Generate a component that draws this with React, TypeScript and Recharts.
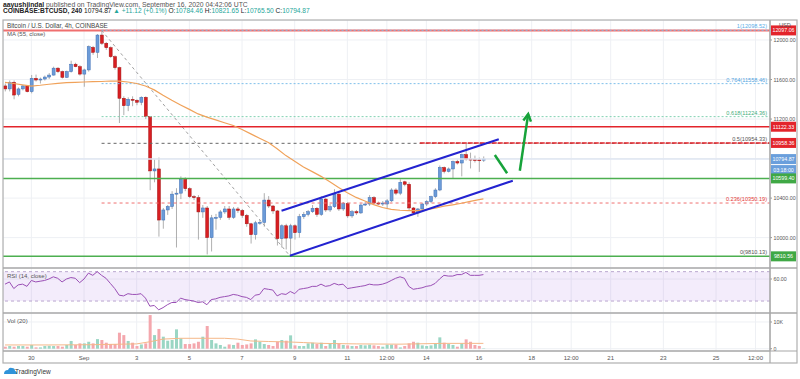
import React from 'react';
import { ComposedChart, Bar, Line, XAxis, YAxis, CartesianGrid, ReferenceLine, ReferenceArea, Cell } from 'recharts';

// 4h candles, Aug 29 00:00 -> Sep 16 04:00 (COINBASE:BTCUSD)
const opens = [
  11535, 11505, 11572, 11450, 11505, 11535, 11477, 11612, 11595, 11605, 11625, 11645, 11715, 11680, 11622, 11680,
  11755, 11730, 11655, 11697, 11925, 11875, 12050, 11967, 11922, 11831, 11720, 11410, 11335, 11400, 11390, 11370,
  11420, 11225, 10675, 10695, 10178, 10280, 10315, 10440, 10450, 10590, 10495, 10415, 10405, 10260, 10300, 10000,
  10200, 10205, 10260, 10290, 10205, 10290, 10275, 10225, 10140, 10030, 10150, 10155, 10380, 10320, 10270, 9990,
  10120, 9995, 10120, 10050, 10212, 10235, 10262, 10297, 10235, 10390, 10280, 10313, 10440, 10290, 10345, 10220,
  10262, 10250, 10330, 10340, 10405, 10350, 10345, 10340, 10372, 10482, 10450, 10565, 10540, 10300, 10250, 10290,
  10340, 10365, 10415, 10482, 10710, 10670, 10695, 10770, 10755, 10840, 10795, 10790, 10788, 10784.46,
];
const highs = [
  11560, 11590, 11590, 11520, 11550, 11545, 11646, 11650, 11620, 11640, 11665, 11730, 11725, 11690, 11690, 11790,
  11770, 11745, 11710, 11945, 11940, 12060, 12098.52, 11980, 11935, 11845, 11730, 11430, 11420, 11430, 11400, 11430,
  11430, 11230, 10790, 10810, 10300, 10330, 10470, 10500, 10620, 10610, 10510, 10430, 10430, 10330, 10320, 10230,
  10240, 10280, 10320, 10320, 10310, 10310, 10290, 10240, 10150, 10170, 10180, 10450, 10420, 10330, 10280, 10135,
  10140, 10140, 10135, 10240, 10260, 10280, 10330, 10310, 10420, 10400, 10340, 10490, 10460, 10360, 10360, 10280,
  10280, 10345, 10360, 10430, 10420, 10365, 10370, 10390, 10500, 10500, 10590, 10575, 10560, 10310, 10300, 10350,
  10380, 10425, 10500, 10730, 10720, 10710, 10780, 10790, 10850, 10958, 10860, 10830, 10810, 10821.65,
];
const lows = [
  11480, 11480, 11400, 11430, 11490, 11470, 11460, 11580, 11560, 11590, 11605, 11640, 11665, 11610, 11615, 11670,
  11725, 11640, 11527, 11680, 11850, 11818, 11950, 11900, 11820, 11700, 11160, 11240, 11280, 11330, 11340, 11340,
  11200, 10480, 10560, 10010, 10090, 10230, 10290, 9900, 10390, 10470, 10400, 10380, 9980, 10200, 9830, 9860,
  10080, 10180, 10240, 10180, 10190, 10250, 10200, 10110, 9940, 9980, 10130, 10110, 10300, 10240, 9920, 9900,
  9880, 9810.13, 9980, 10000, 10190, 10215, 10250, 10210, 10220, 10260, 10260, 10300, 10270, 10270, 10200, 10200,
  10230, 10240, 10320, 10320, 10340, 10330, 10320, 10300, 10360, 10430, 10430, 10520, 10280, 10230, 10210, 10270,
  10320, 10350, 10400, 10470, 10650, 10660, 10600, 10740, 10620, 10780, 10700, 10760, 10665, 10765.5,
];
const closes = [
  11505, 11572, 11443, 11505, 11535, 11477, 11612, 11595, 11605, 11625, 11645, 11715, 11680, 11622, 11680, 11755,
  11730, 11655, 11697, 11932, 11875, 12050, 11967, 11922, 11831, 11720, 11410, 11335, 11400, 11390, 11370, 11420,
  11225, 10675, 10695, 10178, 10280, 10315, 10440, 10450, 10590, 10495, 10415, 10405, 10260, 10300, 10000, 10200,
  10205, 10260, 10290, 10205, 10290, 10275, 10225, 10140, 10030, 10150, 10155, 10380, 10320, 10270, 9990, 10120,
  9995, 10120, 10050, 10212, 10235, 10262, 10297, 10235, 10390, 10280, 10313, 10440, 10290, 10345, 10220, 10262,
  10250, 10330, 10340, 10405, 10350, 10345, 10350, 10372, 10482, 10450, 10560, 10540, 10300, 10250, 10290, 10340,
  10365, 10415, 10482, 10710, 10670, 10695, 10770, 10755, 10840, 10795, 10790, 10788, 10784, 10794.87,
];

// MA (55, close) at these bars
const maIndex = [0, 2, 4, 6, 8, 10, 12, 14, 16, 18, 20, 22, 24, 26, 28, 30, 32, 34, 36, 38, 40, 42, 44, 46, 48, 50, 52, 54,
  56, 58, 60, 62, 64, 66, 68, 70, 72, 74, 76, 78, 80, 82, 84, 86, 88, 90, 92, 94, 96, 98, 100, 102, 104, 106, 108, 109];
const maValue = [11572, 11560, 11545, 11534, 11542, 11552, 11562, 11568, 11572, 11575, 11578, 11580, 11585, 11583, 11575,
  11560, 11535, 11495, 11440, 11390, 11343, 11298, 11252, 11219, 11191, 11163, 11135, 11095, 11050, 11005, 10962, 10900,
  10830, 10772, 10715, 10668, 10620, 10565, 10508, 10455, 10407, 10370, 10334, 10305, 10286, 10277, 10273, 10273, 10284,
  10297, 10318, 10332, 10348, 10366, 10385, 10392];

const rsiValues = [
  53, 56, 47, 52, 53, 50, 58, 56, 57, 58, 60, 63, 61, 56, 60, 62, 61, 55, 60, 68, 65, 70, 65, 61, 54, 47, 38, 37,
  40, 39, 39, 40, 34, 23, 24, 18, 21, 25, 28, 28, 34, 32, 31, 30, 28, 29, 25, 32, 33, 35, 36, 37, 39, 38, 36, 35,
  32, 38, 39, 47, 46, 45, 37, 40, 39, 43, 40, 46, 47, 48, 50, 50, 53, 50, 51, 54, 52, 53, 47, 48, 49, 50, 51, 53,
  52, 52, 53, 55, 58, 61, 63, 61, 50, 46, 47, 48, 50, 51, 54, 60, 65, 64, 64, 66, 66, 69, 65, 65, 65, 66,
];

const volumes = [
  750, 1000, 750, 1000, 1000, 750, 1400, 500, 500, 1000, 1100, 1000, 1000, 750, 1400, 2900, 1400, 2000, 2000, 2600,
  2000, 3600, 3250, 2250, 1750, 1750, 6000, 5100, 2900, 2250, 1000, 1600, 2000, 12600, 5100, 7400, 4500, 3000, 3250,
  7250, 3900, 1750, 1750, 2000, 2600, 4500, 8500, 3250, 2000, 1400, 750, 1600, 1400, 2250, 1400, 1600, 2000, 3500,
  2600, 1750, 1400, 1000, 2600, 3250, 3000, 5000, 1250, 1000, 1000, 2000, 2250, 1750, 2250, 1000, 2000, 3250, 2000,
  1400, 1250, 1000, 1000, 1400, 1250, 1500, 1250, 1000, 750, 1500, 1500, 1500, 500, 1000, 2000, 2600, 2250, 1250,
  1000, 1250, 2000, 4250, 2250, 1750, 1400, 750, 2000, 3500, 2600, 1400, 1000, 150,
];
const volMaIndex = [0, 10, 20, 30, 33, 36, 40, 45, 50, 53, 56, 60, 65, 68, 72, 80, 90, 100, 109];
const volMaValue = [1400, 1400, 1500, 1800, 2600, 3600, 3900, 3900, 3900, 3600, 2900, 2700, 2500, 2300, 2000, 1800, 1700, 2000, 2000];

const timeTicks = [6, 18, 30, 42, 54, 66, 78, 87, 96, 108, 120, 129, 138, 150, 162, 171];
const timeLabels = ['30', 'Sep', '3', '5', '7', '9', '11', '12:00', '14', '16', '18', '12:00', '21', '23', '25', '12:00'];
const priceTicks = [10000, 10200, 10400, 10600, 10800, 11000, 11200, 11400, 11600, 11800, 12000];
const hiddenPriceLabels = [10600, 10800];

const X_DOMAIN = [-0.46, 174.3];
const FONT = '"Liberation Sans", Arial, sans-serif';
const UP = '#6b9bd8';
const UP_EDGE = '#3e6fb5';
const DOWN = '#d81e22';
const DOWN_EDGE = '#a31515';
const AXIS_X = 770; // left edge of the price scale (page px)

const candles = opens.map((o, i) => {
  const m = maIndex.indexOf(i);
  const vm = volMaIndex.indexOf(i);
  return {
    i,
    o,
    h: highs[i],
    l: lows[i],
    c: closes[i],
    range: [lows[i], highs[i]],
    ma: m >= 0 ? maValue[m] : null,
    rsi: rsiValues[i],
    vol: volumes[i],
    volMa: vm >= 0 ? volMaValue[vm] : null,
  };
});

const Candle = (props: any) => {
  const { x, y, width, height, payload } = props;
  const { o, h, l, c } = payload;
  const top = Math.min(y, y + height);
  const span = Math.abs(height);
  const k = span / (h - l);
  const up = c >= o;
  const bodyTop = top + (h - Math.max(o, c)) * k;
  const bodyH = Math.max(1, Math.abs(o - c) * k);
  const cx = x + width / 2;
  return (
    <g>
      <line x1={cx} x2={cx} y1={top} y2={top + span} stroke="#9a9a9a" strokeWidth={0.8} />
      <rect x={x} y={bodyTop} width={width} height={bodyH} fill={up ? UP : DOWN} stroke={up ? UP_EDGE : DOWN_EDGE} strokeWidth={0.5} />
    </g>
  );
};

const fibLabel = (text: string, color: string) => (p: any) => {
  const vb = p.viewBox;
  return (
    <text x={vb.x + vb.width - 3} y={vb.y - 2} textAnchor="end" fontSize={5.6} fill={color} fontFamily={FONT}>
      {text}
    </text>
  );
};

const axisBox = (text: string, bg: string, extra?: string) => (p: any) => {
  const vb = p.viewBox;
  const bx = vb.x + vb.width + 1;
  return (
    <g>
      <rect x={bx} y={vb.y - 5} width={25} height={10} fill={bg} />
      <text x={bx + 12.5} y={vb.y + 2} textAnchor="middle" fontSize={5.3} fill="#fff" fontFamily={FONT}>{text}</text>
      {extra ? (
        <g>
          <rect x={bx} y={vb.y + 6} width={25} height={10} fill={bg} />
          <text x={bx + 12.5} y={vb.y + 13} textAnchor="middle" fontSize={5.3} fill="#fff" fontFamily={FONT}>{extra}</text>
        </g>
      ) : null}
    </g>
  );
};

const Arrow = (props: any) => {
  const { x1, y1, x2, y2 } = props;
  const ang = Math.atan2(y2 - y1, x2 - x1);
  const len = 8;
  const a1 = ang + Math.PI - 0.5;
  const a2 = ang + Math.PI + 0.5;
  return (
    <g>
      <line x1={x1} y1={y1} x2={x2} y2={y2} stroke="#17a33a" strokeWidth={2.5} />
      <polyline
        points={`${x2 + len * Math.cos(a1)},${y2 + len * Math.sin(a1)} ${x2},${y2} ${x2 + len * Math.cos(a2)},${y2 + len * Math.sin(a2)}`}
        fill="none" stroke="#17a33a" strokeWidth={2.5}
      />
    </g>
  );
};

// chart svgs start at page x = 3, so the scale edge is at AXIS_X - 3 inside them
const AxisTick = (fmt: (v: number) => string, hidden: number[] = []) => (props: any) => {
  const { y, payload } = props;
  if (hidden.includes(payload.value)) return null;
  const ax = AXIS_X - 3;
  return (
    <g>
      <line x1={ax} x2={ax + 2} y1={y} y2={y} stroke="#999" />
      <text x={ax + 3.5} y={y + 2} fontSize={5.3} fill="#555" fontFamily={FONT}>{fmt(payload.value)}</text>
    </g>
  );
};

// time labels sit in the strip between page y 351 and 363 (volume chart starts at y 313)
const TimeTick = (props: any) => {
  const { x, payload } = props;
  return (
    <text x={x} y={47} textAnchor="middle" fontSize={6} fill="#555" fontFamily={FONT}>
      {timeLabels[timeTicks.indexOf(payload.value)]}
    </text>
  );
};

const gridColor = '#eef0f4';

export default function App() {
  return (
    <div style={{ position: 'absolute', left: 0, top: 0, width: 800, height: 379, background: '#fff', fontFamily: FONT }}>
      <div style={{ position: 'absolute', left: 3, top: 20 }}>
        <ComposedChart width={794} height={248} data={candles} margin={{ top: 0, right: 0, bottom: 0, left: 0 }}>
          <CartesianGrid stroke={gridColor} />
          <XAxis dataKey="i" type="number" domain={X_DOMAIN} ticks={timeTicks} hide allowDataOverflow />
          <YAxis
            orientation="right" width={27} domain={[9692.6, 12202.4]} ticks={priceTicks} allowDataOverflow
            tick={AxisTick((v) => v.toFixed(2), hiddenPriceLabels)} tickLine={false} tickSize={0} tickMargin={0}
            axisLine={{ stroke: '#aaa' }}
          />
          <ReferenceLine y={12097.06} stroke="#ef6f6f" strokeWidth={2} label={axisBox('12097.06', '#e3242b')} />
          <ReferenceLine segment={[{ x: 22, y: 12098.52 }, { x: 174.3, y: 12098.52 }]} stroke="#7fbfea" strokeDasharray="2 2" label={fibLabel('1(12098.52)', '#5aaee8')} />
          <ReferenceLine segment={[{ x: 22, y: 11558.46 }, { x: 174.3, y: 11558.46 }]} stroke="#7fbfea" strokeDasharray="2 2" label={fibLabel('0.764(11558.46)', '#4fa3e0')} />
          <ReferenceLine segment={[{ x: 22, y: 11224.36 }, { x: 174.3, y: 11224.36 }]} stroke="#7fd0b0" strokeDasharray="2 2" label={fibLabel('0.618(11224.36)', '#3fae7c')} />
          <ReferenceLine segment={[{ x: 22, y: 10954.33 }, { x: 174.3, y: 10954.33 }]} stroke="#666" strokeDasharray="3 3" label={fibLabel('0.5(10954.33)', '#555')} />
          <ReferenceLine segment={[{ x: 22, y: 10350.19 }, { x: 174.3, y: 10350.19 }]} stroke="#ef7070" strokeDasharray="3 3" label={fibLabel('0.236(10350.19)', '#e53935')} />
          <ReferenceLine segment={[{ x: 22, y: 9810.13 }, { x: 174.3, y: 9810.13 }]} stroke="#888" strokeWidth={0} label={fibLabel('0(9810.13)', '#555')} />
          <ReferenceLine segment={[{ x: 22, y: 12098.52 }, { x: 65, y: 9810.13 }]} stroke="#a0a0a0" strokeDasharray="3 3" />
          <ReferenceLine y={11122.33} stroke="#e3242b" strokeWidth={1.5} label={axisBox('11122.33', '#e3242b')} />
          <ReferenceLine segment={[{ x: 94.5, y: 10958.36 }, { x: 174.3, y: 10958.36 }]} stroke="#e3242b" strokeWidth={1.5} strokeDasharray="5 1" />
          <ReferenceLine y={10958.36} stroke="none" label={axisBox('10958.36', '#e3242b')} />
          <ReferenceLine y={10794.87} stroke="#dfe6f2" strokeWidth={1.5} label={axisBox('10794.87', '#6a9fdc', '03:18:00')} />
          <ReferenceLine y={10599.4} stroke="#4caf50" strokeWidth={1.5} label={axisBox('10599.40', '#3fa845')} />
          <ReferenceLine y={9810.56} stroke="#4caf50" strokeWidth={1.5} label={axisBox('9810.56', '#3fa845')} />
          <Bar dataKey="range" barSize={3} shape={<Candle />} isAnimationActive={false} />
          <Line dataKey="ma" stroke="#f0a25a" strokeWidth={1.2} dot={false} connectNulls isAnimationActive={false} />
          <ReferenceLine segment={[{ x: 63, y: 10272 }, { x: 112.5, y: 10995 }]} stroke="#2323d0" strokeWidth={2} />
          <ReferenceLine segment={[{ x: 64.9, y: 9817 }, { x: 115.7, y: 10576 }]} stroke="#2323d0" strokeWidth={2} />
          <ReferenceLine segment={[{ x: 111.6, y: 10836 }, { x: 114.4, y: 10651 }]} stroke="#17a33a" strokeWidth={2.5} />
          <ReferenceLine segment={[{ x: 117.3, y: 10677 }, { x: 119.2, y: 11250 }]} shape={<Arrow />} />
        </ComposedChart>
      </div>

      <div style={{ position: 'absolute', left: 3, top: 268 }}>
        <ComposedChart width={794} height={45} data={candles} margin={{ top: 0, right: 0, bottom: 0, left: 0 }}>
          <CartesianGrid stroke={gridColor} />
          <XAxis dataKey="i" type="number" domain={X_DOMAIN} ticks={timeTicks} hide allowDataOverflow />
          <YAxis
            orientation="right" width={27} domain={[13.7, 75]} ticks={[20, 40, 60]} allowDataOverflow
            tick={AxisTick((v) => v.toFixed(2))} tickLine={false} tickSize={0} tickMargin={0} axisLine={{ stroke: '#aaa' }}
          />
          <ReferenceArea y1={30} y2={70} fill="#a66be0" fillOpacity={0.13} stroke="none" />
          <ReferenceLine y={70} stroke="#b9a6cf" strokeDasharray="3 3" />
          <ReferenceLine y={30} stroke="#b9a6cf" strokeDasharray="3 3" />
          <Line dataKey="rsi" stroke="#9a4fb5" strokeWidth={1} dot={false} isAnimationActive={false} />
        </ComposedChart>
      </div>

      <div style={{ position: 'absolute', left: 3, top: 313 }}>
        <ComposedChart width={794} height={50} data={candles} margin={{ top: 0, right: 0, bottom: 0, left: 0 }}>
          <CartesianGrid stroke={gridColor} />
          <XAxis
            dataKey="i" type="number" domain={X_DOMAIN} ticks={timeTicks} allowDataOverflow height={12}
            tick={<TimeTick />} tickLine={false} axisLine={{ stroke: '#aaa' }}
          />
          <YAxis
            orientation="right" width={27} domain={[-860, 13370]} ticks={[0, 5000, 10000]} allowDataOverflow
            tick={AxisTick((v) => (v === 0 ? '0' : `${v / 1000}K`))} tickLine={false} tickSize={0} tickMargin={0}
            axisLine={{ stroke: '#aaa' }}
          />
          <Bar dataKey="vol" barSize={3} isAnimationActive={false}>
            {candles.map((d) => (
              <Cell key={d.i} fill={d.c >= d.o ? '#9ad6c4' : '#f4a7ad'} />
            ))}
          </Bar>
          <Line dataKey="volMa" stroke="#f5b889" strokeWidth={1} dot={false} connectNulls isAnimationActive={false} />
        </ComposedChart>
      </div>

      <svg width={800} height={379} style={{ position: 'absolute', left: 0, top: 0, pointerEvents: 'none' }}>
        <text x={3} y={6.5} fontSize={6.8} fill="#555" fontFamily={FONT}>
          <tspan fontWeight="bold" fill="#222">aayushjindal</tspan> published on TradingView.com, September 16, 2020 04:42:06 UTC
        </text>
        <text x={3} y={13.2} fontSize={6.6} fill="#26a69a" fontFamily={FONT}>
          <tspan fontWeight="bold" fill="#222">COINBASE:BTCUSD, 240 </tspan>
          <tspan fill="#222">10794.87 </tspan>▲ +11.12 (+0.1%) <tspan fill="#222">O:</tspan>10784.46 <tspan fill="#222">H:</tspan>10821.65{' '}
          <tspan fill="#222">L:</tspan>10765.50 <tspan fill="#222">C:</tspan>10794.87
        </text>
        <rect x={3} y={20} width={794} height={343} fill="none" stroke="#b0b0b0" strokeWidth={1.2} />
        <line x1={3} x2={797} y1={268} y2={268} stroke="#a8a8a8" strokeWidth={1.5} />
        <line x1={3} x2={797} y1={313} y2={313} stroke="#a8a8a8" strokeWidth={1.5} />
        <line x1={3} x2={797} y1={351} y2={351} stroke="#a8a8a8" strokeWidth={1.2} />
        <line x1={770} x2={770} y1={20} y2={363} stroke="#a8a8a8" strokeWidth={1.2} />
        <text x={7} y={28} fontSize={6.3} fill="#444" fontFamily={FONT}>Bitcoin / U.S. Dollar, 4h, COINBASE</text>
        <text x={7} y={35.5} fontSize={6} fill="#555" fontFamily={FONT}>MA (55, close)</text>
        <text x={779} y={27} fontSize={5.5} fill="#555" fontFamily={FONT}>USD</text>
        <text x={7} y={278} fontSize={6} fill="#555" fontFamily={FONT}>RSI (14, close)</text>
        <text x={7} y={323} fontSize={6} fill="#555" fontFamily={FONT}>Vol (20)</text>
        <path d="M4 374 q0 -4 4 -4 q1 -3 4 -2 q3 0 3 3 q2 0 2 3 z" fill="#2f93d9" />
        <text x={15} y={373.5} fontSize={6.5} fill="#333" fontFamily={FONT}>TradingView</text>
      </svg>
    </div>
  );
}
